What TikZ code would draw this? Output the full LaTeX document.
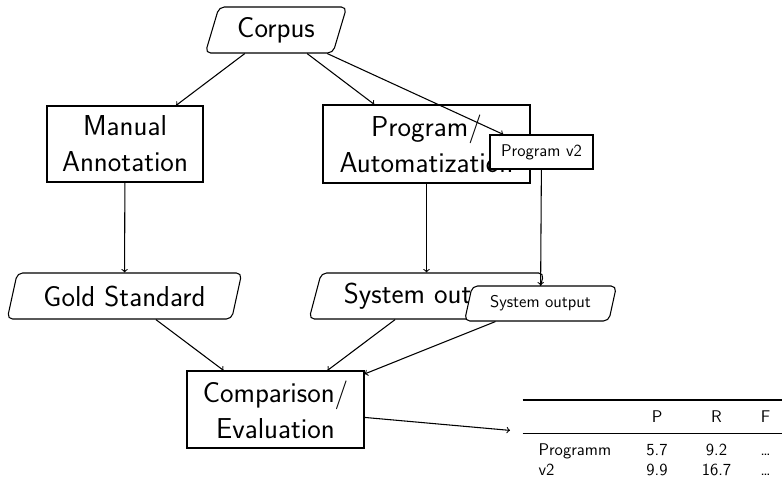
\documentclass[tikz,border=0pt]{standalone}
\usepackage{fontspec}
\usepackage{booktabs,array}
\usetikzlibrary{shapes.geometric}
\newcolumntype{C}[1]{>{\centering\arraybackslash}p{#1}}
\setlength{\heavyrulewidth}{1.5pt}
\setlength{\lightrulewidth}{0.9pt}
\setlength{\belowrulesep}{6pt}
\setlength{\aboverulesep}{3pt}
\begin{document}
\begin{tikzpicture}[x=0.75pt,y=-0.75pt,
  line width=0.8pt, >=to,
  big/.style={font=\sffamily\fontsize{21.6}{27}\selectfont, align=center},
  small/.style={font=\sffamily\fontsize{12.7}{15}\selectfont},
  box/.style={draw, rectangle, fill=white, inner sep=0pt},
  data/.style={draw, trapezium, trapezium left angle=70, trapezium right angle=110,
    trapezium stretches=true, rounded corners=4pt, fill=white, inner sep=0pt},
  flow/.style={->}]
\useasboundingbox (0,0) rectangle (782,476);

% sources and processing steps
\node[data, big, minimum width=106.5pt, minimum height=34.5pt] (corpus) at (276,30) {Corpus};
\node[box, big, minimum width=117pt, minimum height=57pt] (manual) at (125,144) {Manual\\Annotation};
\node[box, big, minimum width=155.25pt, minimum height=58.5pt] (prog) at (426.5,144) {Program/\\Automatization};
\node[box, small, minimum width=77.25pt, minimum height=25.5pt] (progv2) at (541.5,152) {Program v2};

% outputs
\node[data, big, minimum width=176.25pt, minimum height=34.5pt] (gold) at (124.5,296) {Gold Standard};
\node[data, big, minimum width=176.25pt, minimum height=34.5pt] (sysbig) at (426.5,296) {System output};
\node[data, small, minimum width=114.75pt, minimum height=26.25pt] (syssmall) at (540.5,303.5) {System output};

% evaluation
\node[box, big, minimum width=132.75pt, minimum height=57.75pt] (comp) at (275.5,409.5) {Comparison/\\Evaluation};

% result table
\node[small, inner xsep=9pt, inner ysep=0pt, anchor=north west] (tab) at (510,398) {%
  \begin{tabular}{@{\hspace{12pt}}p{66pt}@{}C{45.75pt}@{}C{43.5pt}@{}C{30pt}@{}}
    \toprule
     & P & R & F \\
    \midrule
    Programm & 5.7 & 9.2 & \ldots \\
    v2 & 9.9 & 16.7 & \ldots \\
    \bottomrule
  \end{tabular}};

% connectors
\draw[flow] (corpus) -- (manual);
\draw[flow] (corpus) -- (prog);
\draw[flow] (corpus) -- (progv2);
\draw[flow] (manual) -- (gold);
\draw[flow] (prog) -- (sysbig);
\draw[flow] (progv2) -- (syssmall);
\draw[flow] (gold) -- (comp);
\draw[flow] (sysbig) -- (comp);
\draw[flow] (syssmall) -- (comp);
\draw[flow] (comp) -- (tab);
\end{tikzpicture}
\end{document}
